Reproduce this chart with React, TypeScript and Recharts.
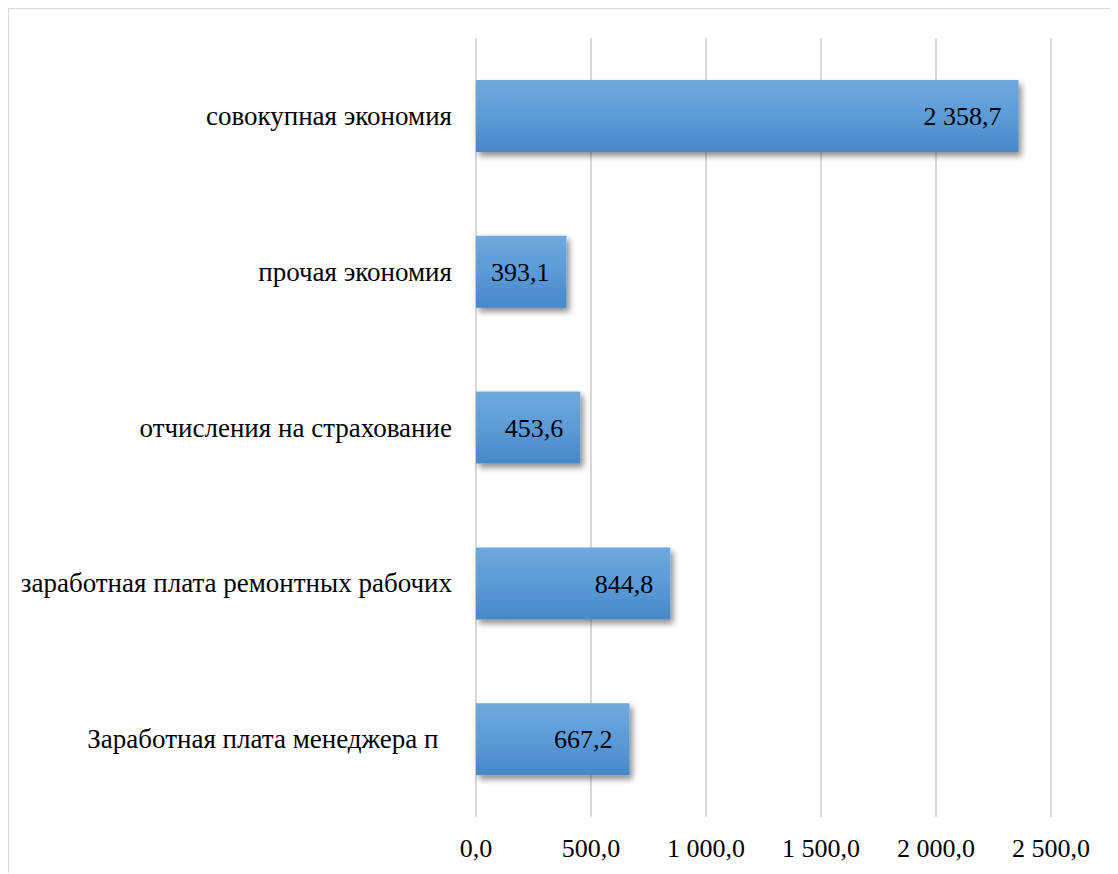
import React from 'react';
import { BarChart, Bar, XAxis, YAxis, CartesianGrid, LabelList } from 'recharts';

const categories = [
    'совокупная экономия',
    'прочая экономия',
    'отчисления на страхование',
    'заработная плата ремонтных рабочих',
    'Заработная плата менеджера п  ',
];
const values = [2358.7, 393.1, 453.6, 844.8, 667.2];
const xTicks = [0, 500, 1000, 1500, 2000, 2500];

const data = categories.map((name, i) => ({ name, value: values[i] }));

const fmt = (v: number) => {
    const [int, dec] = Number(v).toFixed(1).split('.');
    return int.replace(/\B(?=(\d{3})+(?!\d))/g, ' ') + ',' + dec;
};

const SERIF = 'Liberation Serif';

const CategoryTick = (props: any) => {
    const { x, y, payload } = props;
    return (
        <text
            x={x - 16}
            y={y}
            dy={9}
            textAnchor="end"
            fill="#000"
            fontFamily={SERIF}
            fontSize={27}
            style={{ whiteSpace: 'pre' }}
        >
            {payload.value}
        </text>
    );
};

const App: React.FC = () => {
    return (
        <div style={{ position: 'relative', width: 1110, height: 866, borderTop: '2px solid #d9d9d9', borderLeft: '2px solid #d9d9d9', marginLeft: -1, marginTop: -1, boxSizing: 'border-box' }}>
            <div style={{ position: 'absolute', left: -1, top: -1 }}>
                <BarChart
                    width={1110}
                    height={866}
                    data={data}
                    layout="vertical"
                    margin={{ top: 30, right: 67, bottom: 17, left: 0 }}
                    barSize={72}
                >
                    <defs>
                        <linearGradient id="barFill" x1="0" y1="0" x2="0" y2="1">
                            <stop offset="0%" stopColor="#70a8de" />
                            <stop offset="50%" stopColor="#5b9bd8" />
                            <stop offset="100%" stopColor="#4788c8" />
                        </linearGradient>
                        <filter id="barShadow" x="-10%" y="-20%" width="130%" height="160%">
                            <feDropShadow dx="3" dy="4" stdDeviation="3" floodColor="#000" floodOpacity="0.45" />
                        </filter>
                    </defs>
                    <CartesianGrid horizontal={false} stroke="#d9d9d9" strokeWidth={2} />
                    <XAxis
                        type="number"
                        domain={[0, 2500]}
                        ticks={xTicks}
                        tickFormatter={fmt}
                        axisLine={false}
                        tickLine={false}
                        height={40}
                        dy={14}
                        tick={{ fill: '#000', fontFamily: SERIF, fontSize: 26 }}
                    />
                    <YAxis
                        type="category"
                        dataKey="name"
                        width={468}
                        axisLine={false}
                        tickLine={false}
                        tick={<CategoryTick />}
                    />
                    <Bar dataKey="value" fill="url(#barFill)" filter="url(#barShadow)" isAnimationActive={false}>
                        <LabelList
                            dataKey="value"
                            position="insideRight"
                            offset={17}
                            formatter={(v: any) => fmt(v)}
                            fill="#000"
                            fontFamily={SERIF}
                            fontSize={26}
                        />
                    </Bar>
                </BarChart>
            </div>
        </div>
    );
};

export default App;
